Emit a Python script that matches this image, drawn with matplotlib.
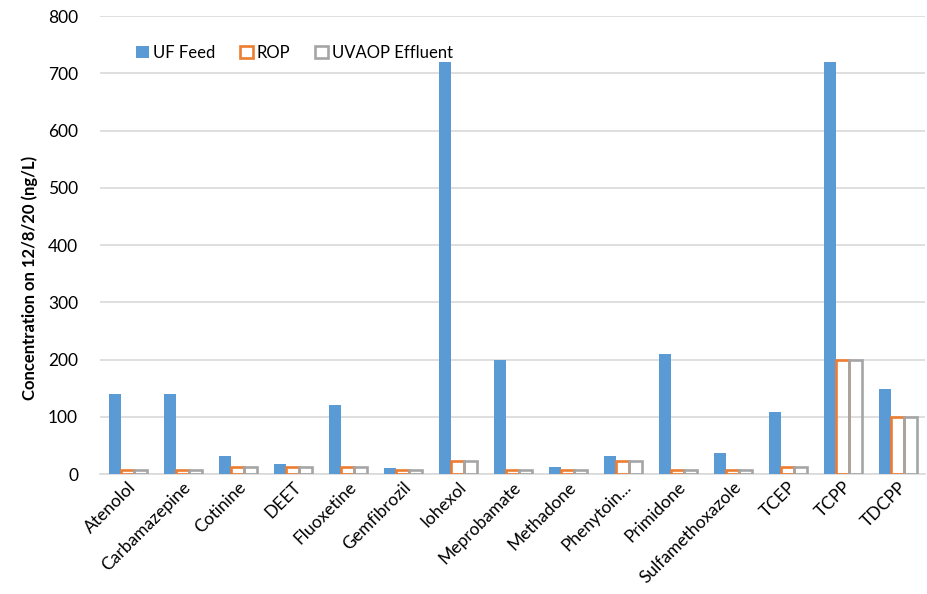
import numpy as np
import matplotlib
matplotlib.use("Agg")
import matplotlib.pyplot as plt

plt.rcParams['font.family'] = ['Lato', 'DejaVu Sans']

compounds = ['Atenolol', 'Carbamazepine', 'Cotinine', 'DEET', 'Fluoxetine',
             'Gemfibrozil', 'Iohexol', 'Meprobamate', 'Methadone', 'Phenytoin...',
             'Primidone', 'Sulfamethoxazole', 'TCEP', 'TCPP', 'TDCPP']
uf_feed = [140, 140, 32, 18, 120, 10, 720, 200, 13, 32, 210, 37, 109, 720, 149]
rop = [7, 7, 12, 12, 12, 7, 22, 7, 7, 22, 7, 7, 12, 200, 100]
uvaop = [7, 7, 12, 12, 12, 7, 22, 7, 7, 22, 7, 7, 12, 200, 100]

blue = '#5b9bd5'
orange = '#ed7d31'
grey = '#a5a5a5'

fig = plt.figure(figsize=(9.28, 5.94), dpi=100)
ax = fig.add_axes([0.108, 0.202, 0.889, 0.771])

x = np.arange(len(compounds))
w = 0.23
ax.bar(x - w, uf_feed, w, color=blue, label='UF Feed', zorder=3)
ax.bar(x, rop, w, facecolor='none', edgecolor=orange, linewidth=1.9,
       label='ROP', zorder=3)
ax.bar(x + w, uvaop, w, facecolor='none', edgecolor=grey, linewidth=1.9,
       label='UVAOP Effluent', zorder=3)

ax.set_xlim(-0.5, len(compounds) - 0.5)
ax.set_ylim(0, 800)
ax.set_yticks(range(0, 801, 100))
ax.yaxis.grid(True, color='#d9d9d9', linewidth=1.2, zorder=0)
ax.set_axisbelow(True)
for side in ['left', 'right', 'top']:
    ax.spines[side].set_visible(False)
ax.spines['bottom'].set_color('#d9d9d9')
ax.spines['bottom'].set_linewidth(1.2)
ax.tick_params(axis='both', length=0, labelsize=12.5, colors='#000000')
ax.tick_params(axis='y', pad=16)

ax.set_xticks(x)
ax.set_xticklabels(compounds, rotation=45, ha='right', rotation_mode='anchor')
ax.set_ylabel('Concentration on 12/8/20 (ng/L)', fontsize=12,
              fontweight='bold')
ax.yaxis.set_label_coords(-0.076, 0.428)

ax.legend(loc='upper left', bbox_to_anchor=(0.025, 0.97), ncol=3, frameon=False,
          fontsize=12, handlelength=0.8, handleheight=0.8, handletextpad=0.2,
          columnspacing=1.5)

fig.savefig('out.png', dpi=100)
